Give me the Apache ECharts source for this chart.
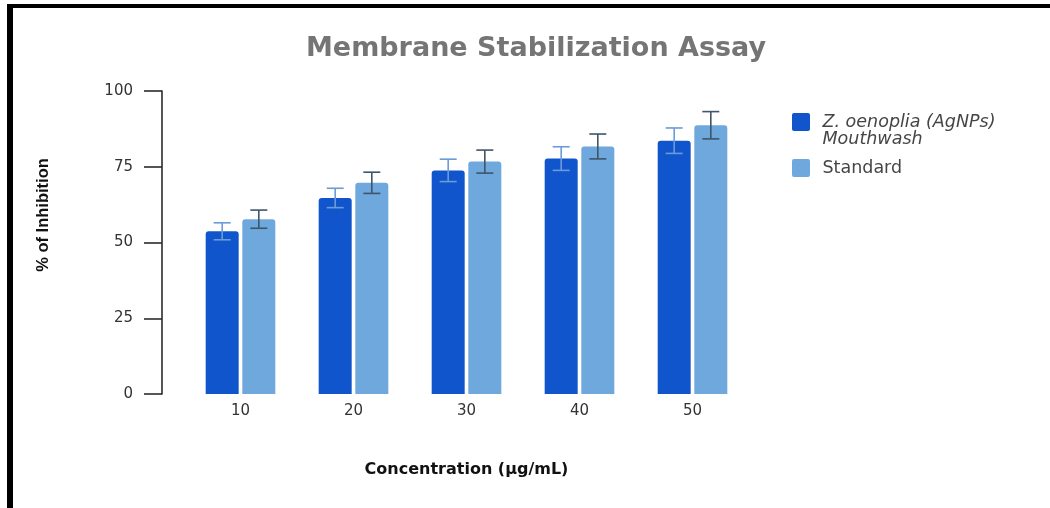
<!DOCTYPE html>
<html>
<head>
<meta charset="utf-8">
<script src="https://cdn.jsdelivr.net/npm/echarts@6/dist/echarts.min.js"></script>
<style>
  html, body { margin: 0; padding: 0; background: #fff; }
  #chart { width: 1050px; height: 508px; }
</style>
</head>
<body>
<div id="chart"></div>
<script>
// Concentrations tested (µg/mL)
const categories = ['10', '20', '30', '40', '50'];
// Mean % inhibition and error for each preparation
const mouthwash = [53.7, 64.7, 73.8, 77.7, 83.6];
const mouthwashErr = [2.8, 3.2, 3.7, 3.9, 4.2];
const standard = [57.7, 69.7, 76.7, 81.7, 88.7];
const standardErr = [3.0, 3.5, 3.8, 4.1, 4.5];
// Value axis ticks
const yTicks = [0, 25, 50, 75, 100];

const seriesNames = ['Z. oenoplia (AgNPs) Mouthwash', 'Standard'];
const colors = ['#1155cc', '#6fa8dc'];
const errColors = ['#6b9bd8', '#3f5568'];

const BAR_WIDTH = 33;
const BAR_GAP = 0.11;
const barShift = (BAR_WIDTH * (1 + BAR_GAP)) / 2;

// rounded square legend swatch
const SWATCH = 'path://M2,0H16A2,2 0 0 1 18,2V16A2,2 0 0 1 16,18H2A2,2 0 0 1 0,16V2A2,2 0 0 1 2,0Z';

function errorBars(shift, color) {
  return function (params, api) {
    const idx = api.value(0);
    const mean = api.value(1);
    const err = api.value(2);
    const top = api.coord([idx, mean + err]);
    const bottom = api.coord([idx, mean - err]);
    const x = top[0] + shift;
    const half = 8.5;
    const style = { stroke: color, lineWidth: 1.6 };
    return {
      type: 'group',
      children: [
        { type: 'line', shape: { x1: x, y1: top[1], x2: x, y2: bottom[1] }, style },
        { type: 'line', shape: { x1: x - half, y1: top[1], x2: x + half, y2: top[1] }, style },
        { type: 'line', shape: { x1: x - half, y1: bottom[1], x2: x + half, y2: bottom[1] }, style }
      ]
    };
  };
}

const chart = echarts.init(document.getElementById('chart'));
chart.setOption({
  backgroundColor: '#ffffff',
  animation: false,
  title: {
    text: 'Membrane Stabilization Assay',
    left: 531,
    top: 30,
    textAlign: 'center',
    textStyle: {
      fontFamily: 'DejaVu Sans',
      fontWeight: 'bold',
      fontSize: 27,
      color: '#757575'
    }
  },
  legend: {
    orient: 'vertical',
    left: 787,
    top: 91,
    itemWidth: 33,
    itemHeight: 18,
    itemGap: 11,
    icon: SWATCH,
    symbolKeepAspect: true,
    selectedMode: false,
    formatter: function (name) {
      // leading blank line keeps the swatch level with the first line
      return name === seriesNames[0] ? '\nZ. oenoplia (AgNPs)\nMouthwash' : name;
    },
    textStyle: {
      fontFamily: 'DejaVu Sans',
      fontSize: 17.5,
      color: '#454545',
      lineHeight: 17
    },
    data: [
      { name: seriesNames[0], textStyle: { fontStyle: 'italic' } },
      { name: seriesNames[1] }
    ]
  },
  grid: { left: 184, right: 301, top: 91, bottom: 114 },
  xAxis: {
    type: 'category',
    data: categories,
    name: 'Concentration (µg/mL)',
    nameLocation: 'middle',
    nameGap: 68,
    nameTextStyle: {
      fontFamily: 'DejaVu Sans',
      fontWeight: 'bold',
      fontSize: 16,
      color: '#111'
    },
    axisLine: { show: false },
    axisTick: { show: false },
    axisLabel: {
      margin: 10,
      fontFamily: 'DejaVu Sans',
      fontSize: 15,
      color: '#333'
    }
  },
  yAxis: {
    type: 'value',
    min: yTicks[0],
    max: yTicks[yTicks.length - 1],
    interval: yTicks[1] - yTicks[0],
    offset: 22,
    splitLine: { show: false },
    axisLine: { show: true, lineStyle: { color: '#2b2b2b', width: 1.6 } },
    axisTick: { show: true, length: 18, lineStyle: { color: '#2b2b2b', width: 1.6 } },
    axisLabel: {
      margin: 29,
      fontFamily: 'DejaVu Sans',
      fontSize: 15,
      color: '#333'
    }
  },
  graphic: [
    // frame around the figure
    { type: 'rect', shape: { x: 7, y: 4, width: 6, height: 504 }, style: { fill: '#000' }, silent: true },
    { type: 'rect', shape: { x: 7, y: 4, width: 1043, height: 4 }, style: { fill: '#000' }, silent: true },
    {
      type: 'text',
      x: 43,
      y: 215,
      rotation: Math.PI / 2,
      style: {
        text: '% of Inhibition',
        fontFamily: 'Liberation Sans',
        fontWeight: 'bold',
        fontSize: 16.5,
        fill: '#111',
        align: 'center',
        verticalAlign: 'middle'
      }
    }
  ],
  series: [
    {
      name: seriesNames[0],
      type: 'bar',
      data: mouthwash,
      barWidth: BAR_WIDTH,
      barGap: (BAR_GAP * 100) + '%',
      itemStyle: { color: colors[0], borderRadius: [3, 3, 0, 0] }
    },
    {
      name: seriesNames[1],
      type: 'bar',
      data: standard,
      barWidth: BAR_WIDTH,
      barGap: (BAR_GAP * 100) + '%',
      itemStyle: { color: colors[1], borderRadius: [3, 3, 0, 0] }
    },
    {
      type: 'custom',
      name: 'mouthwash-error',
      z: 5,
      renderItem: errorBars(-barShift, errColors[0]),
      data: categories.map((c, i) => [i, mouthwash[i], mouthwashErr[i]])
    },
    {
      type: 'custom',
      name: 'standard-error',
      z: 5,
      renderItem: errorBars(barShift, errColors[1]),
      data: categories.map((c, i) => [i, standard[i], standardErr[i]])
    }
  ]
});
</script>
</body>
</html>
